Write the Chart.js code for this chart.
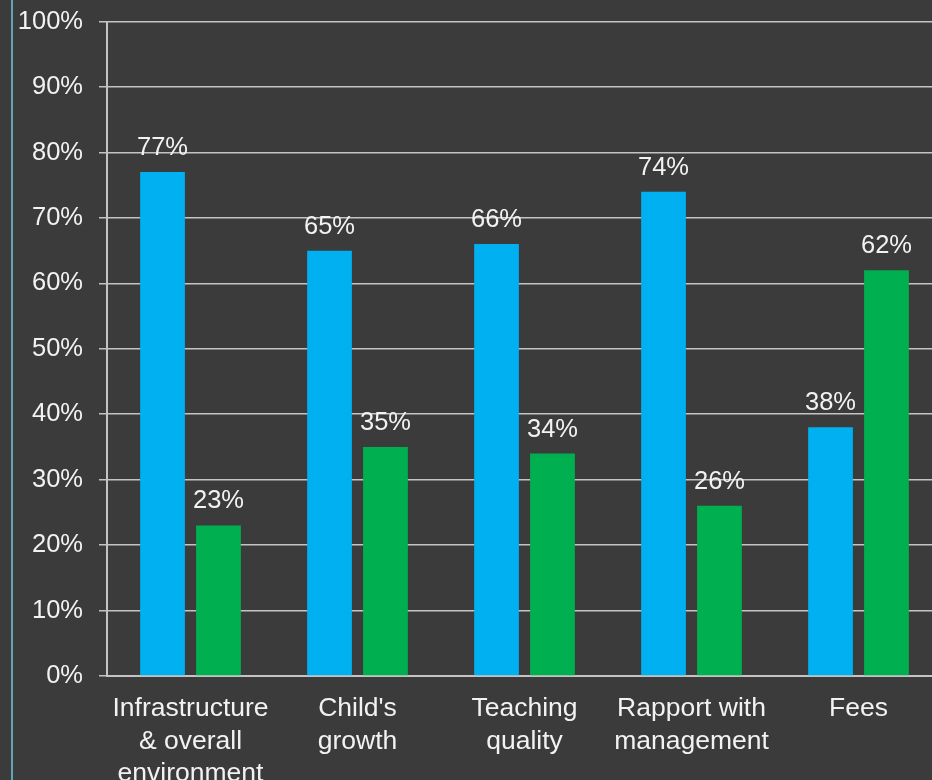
<!DOCTYPE html>
<html>
<head>
<meta charset="utf-8">
<script src="https://cdn.jsdelivr.net/npm/chart.js@4/dist/chart.umd.min.js"></script>
<style>
  html, body { margin: 0; padding: 0; background: #3b3b3b; overflow: hidden; }
  #wrap { position: relative; width: 942px; height: 780px; }
</style>
</head>
<body>
<div id="wrap"><canvas id="chart"></canvas></div>
<script>
const categories = [
    ["Infrastructure", "& overall", "environment"],
    ["Child's", "growth"],
    ["Teaching", "quality"],
    ["Rapport with", "management"],
    ["Fees"]
];
const series1 = [77, 65, 66, 74, 38];
const series2 = [23, 35, 34, 26, 62];
const yTicks = [0, 10, 20, 30, 40, 50, 60, 70, 80, 90, 100];

const FONT = "'Liberation Sans', Arial, sans-serif";
const TEXT = "#f2f2f2";
const GRID = "#c4c4c4";

// background + the thin frame line on the left
const frame = {
    id: "frame",
    beforeDraw(chart) {
        const ctx = chart.ctx;
        ctx.save();
        ctx.fillStyle = "#3b3b3b";
        ctx.fillRect(0, 0, chart.width, chart.height);
        ctx.fillStyle = "#62a3ba";
        ctx.fillRect(11, 0, 2, chart.height);
        ctx.restore();
    }
};

// value labels above each bar
const valueLabels = {
    id: "valueLabels",
    afterDatasetsDraw(chart) {
        const ctx = chart.ctx;
        ctx.save();
        ctx.font = "25.5px " + FONT;
        ctx.fillStyle = TEXT;
        ctx.textAlign = "center";
        ctx.textBaseline = "alphabetic";
        chart.data.datasets.forEach((ds, i) => {
            chart.getDatasetMeta(i).data.forEach((bar, j) => {
                ctx.fillText(ds.data[j] + "%", bar.x, bar.y - 17);
            });
        });
        ctx.restore();
    }
};

new Chart(document.getElementById("chart"), {
    type: "bar",
    data: {
        labels: categories,
        datasets: [
            { label: "Series 1", data: series1, backgroundColor: "#00b0f0" },
            { label: "Series 2", data: series2, backgroundColor: "#00b050" }
        ]
    },
    options: {
        responsive: true,
        maintainAspectRatio: false,
        animation: false,
        layout: { padding: { top: 19, right: 0, bottom: 0, left: 0 } },
        categoryPercentage: 0.67,
        barPercentage: 0.8,
        plugins: {
            legend: { display: false },
            tooltip: { enabled: false }
        },
        scales: {
            x: {
                grid: { display: false, drawTicks: false },
                border: { display: true, color: GRID, width: 2 },
                ticks: {
                    color: TEXT,
                    font: { family: FONT, size: 26.5, lineHeight: 1.24 },
                    padding: 16,
                    maxRotation: 0,
                    autoSkip: false
                },
                afterFit(scale) { scale.height = 104; }
            },
            y: {
                min: 0,
                max: 100,
                afterBuildTicks(scale) {
                    scale.ticks = yTicks.map(v => ({ value: v }));
                },
                grid: { color: GRID, lineWidth: 1.5, tickLength: 8 },
                border: { display: true, color: GRID, width: 2 },
                ticks: {
                    color: TEXT,
                    font: { family: FONT, size: 25.5, lineHeight: 0.44 },
                    padding: 16,
                    callback: v => v + "%"
                },
                afterFit(scale) { scale.width = 107; }
            }
        }
    },
    plugins: [frame, valueLabels]
});
</script>
</body>
</html>
